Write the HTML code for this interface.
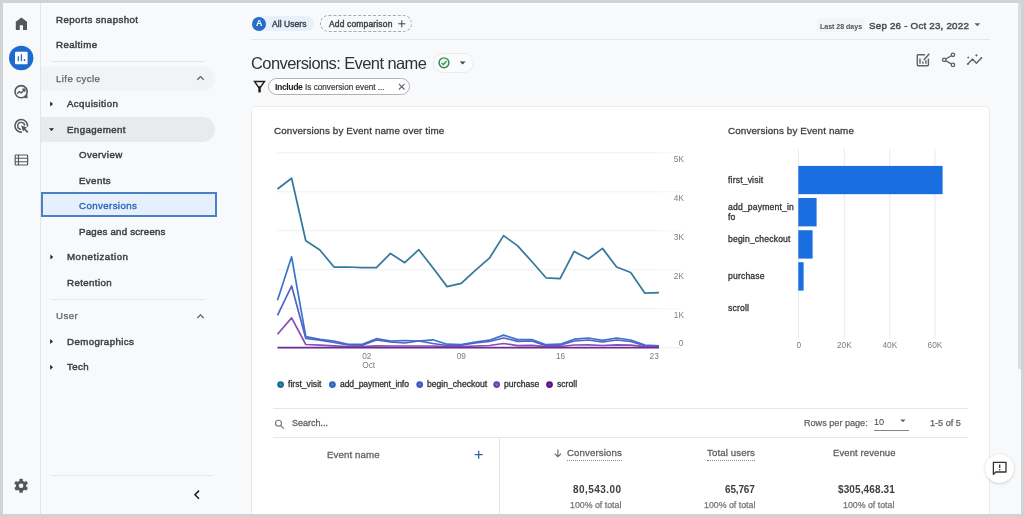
<!DOCTYPE html>
<html lang="en">
<head>
<meta charset="utf-8">
<title>Conversions: Event name</title>
<style>
*{box-sizing:border-box;margin:0;padding:0}
html,body{width:1024px;height:517px;overflow:hidden;background:#d1d2d4}
body{font-family:"Liberation Sans",Arial,sans-serif;color:#3c4043;position:relative}
#app{position:absolute;left:3px;top:3px;width:1018px;height:511px;background:#f8f9fa;overflow:hidden}
.abs{position:absolute}
.t{position:absolute;white-space:nowrap;line-height:1;transform:translateY(-41%);will-change:transform}
.med{-webkit-text-stroke:0.3px currentColor}
#rail{position:absolute;left:0;top:0;width:38px;height:511px;border-right:1px solid #e3e5e8;background:#f8f9fa}
.nav{font-size:9.7px;color:#3c4043;-webkit-text-stroke:0.45px #3c4043;letter-spacing:0.4px;margin-top:-0.8px;margin-left:0.3px}
.hl{position:absolute;background:#e4e6e9;height:1px}
.card{position:absolute;left:248px;top:103px;width:738.5px;height:420px;background:#fff;border:1px solid #e9ebed;border-radius:5px}
.sm{font-size:8.6px;color:#303336;-webkit-text-stroke:0.3px #303336;margin-top:0.1px}
.ax{font-size:8.3px;fill:#787d82;font-family:"Liberation Sans",Arial,sans-serif}
svg{position:absolute;left:0;top:0;overflow:visible}
</style>
</head>
<body>
<div id="app">
<!-- coordinates inside #app are target coords minus 3 -->
<div class="abs" style="left:0;top:0;width:1018px;height:1.5px;background:#fdfdfd"></div>
<div id="rail"></div>

<!-- SIDEBAR -->
<div class="t nav" style="left:52.4px;top:16.3px">Reports snapshot</div>
<div class="t nav" style="left:52.4px;top:42.2px">Realtime</div>
<div class="hl" style="left:48px;top:58px;width:154px"></div>
<div class="abs" style="left:38px;top:63.7px;width:174px;height:24.5px;background:#f1f3f4;border-radius:0 13px 13px 0"></div>
<div class="t nav" style="left:52.4px;top:75.3px;color:#5f6368;-webkit-text-stroke:0.25px #5f6368">Life cycle</div>
<div class="t nav" style="left:63.8px;top:100.9px">Acquisition</div>
<div class="abs" style="left:38px;top:113.8px;width:174px;height:25px;background:#e8eaed;border-radius:0 13px 13px 0"></div>
<div class="t nav" style="left:63.8px;top:126.5px">Engagement</div>
<div class="t nav" style="left:75.3px;top:151.8px">Overview</div>
<div class="t nav" style="left:75.3px;top:177.4px">Events</div>
<div class="abs" style="left:38px;top:189px;width:176px;height:25px;background:#e6f0fc;border:2.5px solid #4a80c4"></div>
<div class="t nav" style="left:75.3px;top:202.8px;color:#2c69b8;-webkit-text-stroke:0.4px #2c69b8">Conversions</div>
<div class="t nav" style="left:75.3px;top:228.6px;letter-spacing:0.22px">Pages and screens</div>
<div class="t nav" style="left:63.8px;top:254.2px;letter-spacing:0.55px">Monetization</div>
<div class="t nav" style="left:63.8px;top:279.8px">Retention</div>
<div class="hl" style="left:48px;top:296px;width:154px"></div>
<div class="t nav" style="left:52.4px;top:313.2px;color:#5f6368;-webkit-text-stroke:0.25px #5f6368">User</div>
<div class="t nav" style="left:63.8px;top:338.6px">Demographics</div>
<div class="t nav" style="left:63.8px;top:364.2px">Tech</div>
<div class="hl" style="left:48px;top:472px;width:162px"></div>

<!-- HEADER -->
<div class="abs" style="left:248.7px;top:13.3px;width:62px;height:15.2px;border-radius:8px;background:#e8f0fb"></div>
<div class="abs" style="left:249.4px;top:13.8px;width:14px;height:14px;border-radius:50%;background:#256dc8"></div>
<div class="t" style="left:253.3px;top:19.9px;font-size:8.8px;font-weight:700;color:#fff">A</div>
<div class="t" style="left:269.2px;top:20.1px;font-size:8.5px;color:#3c4043;-webkit-text-stroke:0.4px #3c4043;letter-spacing:0.05px">All Users</div>
<div class="abs" style="left:317px;top:12.2px;width:92px;height:16.8px;border-radius:9px;border:1px dashed #a5aab0"></div>
<div class="t" style="left:326.3px;top:20.1px;font-size:8.5px;color:#3c4043;-webkit-text-stroke:0.4px #3c4043;letter-spacing:0.15px">Add comparison</div>
<div class="hl" style="left:248px;top:36.3px;width:739px"></div>
<div class="abs" style="left:814px;top:16px;width:47px;height:13px;border-radius:3px;background:#f1f3f4"></div>
<div class="t" style="left:816.5px;top:22.5px;font-size:7px;font-weight:700;color:#4d5156">Last 28 days</div>
<div class="t" style="left:866.3px;top:22.2px;font-size:9.8px;letter-spacing:0.2px;color:#4d5156;-webkit-text-stroke:0.5px #4d5156">Sep 26 - Oct 23, 2022</div>

<div class="t" style="left:248.2px;top:59.3px;font-size:16.5px;letter-spacing:-0.59px;color:#303336">Conversions: Event name</div>
<div class="abs" style="left:430.2px;top:50px;width:40.6px;height:19.7px;border-radius:10px;border:1px solid #eaecee;background:#fafbfc"></div>
<div class="abs" style="left:265.3px;top:75.2px;width:142px;height:17.2px;border-radius:9px;border:1.1px solid #aeb2b7;background:#fff"></div>
<div class="t" style="left:271.6px;top:83.6px;font-size:8.7px;font-weight:700;letter-spacing:-0.42px;color:#202124">Include</div>
<div class="t" style="left:301.8px;top:84px;font-size:8.2px;color:#3c4043;-webkit-text-stroke:0.2px #3c4043">Is conversion event ...</div>

<!-- CARD -->
<div class="card"></div>
<div class="t" style="left:270.9px;top:127px;font-size:9.9px;letter-spacing:0.1px;color:#3c4043;-webkit-text-stroke:0.3px #3c4043">Conversions by Event name over time</div>
<div class="t" style="left:724.7px;top:127px;font-size:9.9px;letter-spacing:0.1px;color:#3c4043;-webkit-text-stroke:0.3px #3c4043">Conversions by Event name</div>

<!-- bar chart labels -->
<div class="t sm" style="letter-spacing:0.17px;margin-top:0.1px;left:725px;top:176.7px">first_visit</div>
<div class="t sm" style="letter-spacing:0.17px;margin-top:0.1px;left:725px;top:203.9px">add_payment_in</div>
<div class="t sm" style="letter-spacing:0.17px;margin-top:0.1px;left:725px;top:214px">fo</div>
<div class="t sm" style="letter-spacing:0.17px;margin-top:0.1px;left:725px;top:235.6px">begin_checkout</div>
<div class="t sm" style="letter-spacing:0.17px;margin-top:0.1px;left:725px;top:272.6px">purchase</div>
<div class="t sm" style="letter-spacing:0.17px;margin-top:0.1px;left:725px;top:304.7px">scroll</div>

<!-- legend -->
<div class="t sm" style="left:284.9px;top:381.3px">first_visit</div>
<div class="t sm" style="left:336.7px;top:381.3px;letter-spacing:-0.12px">add_payment_info</div>
<div class="t sm" style="left:424px;top:381.3px">begin_checkout</div>
<div class="t sm" style="left:501.4px;top:381.3px">purchase</div>
<div class="t sm" style="left:553.5px;top:381.3px">scroll</div>

<!-- table -->
<div class="hl" style="left:270.2px;top:405.2px;width:694.5px"></div>
<div class="hl" style="left:270.2px;top:434.2px;width:694.5px"></div>
<div class="abs" style="left:495.6px;top:434.2px;width:1px;height:90px;background:#e1e3e6"></div>
<div class="t" style="left:289.2px;top:420.4px;font-size:9px;color:#5f6368;-webkit-text-stroke:0.3px #5f6368">Search...</div>
<div class="t" style="left:800.7px;top:419.7px;font-size:9.1px;color:#5f6368;-webkit-text-stroke:0.25px #5f6368">Rows per page:</div>
<div class="t" style="left:871.4px;top:419px;font-size:9.1px;color:#3c4043">10</div>
<div class="abs" style="left:871px;top:426.5px;width:35px;height:1px;background:#80868b"></div>
<div class="t" style="left:926.5px;top:419.7px;font-size:9.1px;color:#5f6368;-webkit-text-stroke:0.25px #5f6368">1-5 of 5</div>

<div class="t" style="left:323.5px;top:451px;font-size:9.7px;color:#5f6368;-webkit-text-stroke:0.3px #5f6368;letter-spacing:0.1px">Event name</div>
<div class="t" style="left:564px;top:448.7px;font-size:9.7px;color:#5f6368;-webkit-text-stroke:0.3px #5f6368;letter-spacing:0.1px;border-bottom:1px dotted #70757a;padding-bottom:2px;transform:translateY(-30%)">Conversions</div>
<div class="t" style="left:703.8px;top:448.7px;font-size:9.7px;color:#5f6368;-webkit-text-stroke:0.3px #5f6368;letter-spacing:0.1px;border-bottom:1px dotted #70757a;padding-bottom:2px;transform:translateY(-30%)">Total users</div>
<div class="t" style="left:830.4px;top:448.9px;font-size:9.5px;color:#5f6368;-webkit-text-stroke:0.3px #5f6368;letter-spacing:0.1px">Event revenue</div>

<div class="t" style="right:399.1px;top:485.8px;font-size:10px;font-weight:700;color:#3c4043;letter-spacing:0.45px;margin-top:-0.3px">80,543.00</div>
<div class="t" style="right:266px;top:485.8px;font-size:10px;font-weight:700;color:#3c4043;letter-spacing:-0.15px;margin-top:-0.3px">65,767</div>
<div class="t" style="right:126px;top:485.8px;font-size:10px;font-weight:700;color:#3c4043;letter-spacing:0.12px;margin-top:-0.3px">$305,468.31</div>
<div class="t" style="right:399.6px;top:502.5px;font-size:8.8px;color:#70757a;-webkit-text-stroke:0.25px #70757a;margin-top:-0.4px">100% of total</div>
<div class="t" style="right:266px;top:502.5px;font-size:8.8px;color:#70757a;-webkit-text-stroke:0.25px #70757a;margin-top:-0.4px">100% of total</div>
<div class="t" style="right:126.2px;top:502.5px;font-size:8.8px;color:#70757a;-webkit-text-stroke:0.25px #70757a;margin-top:-0.4px">100% of total</div>

<!-- feedback fab -->
<div class="abs" style="left:982.3px;top:450.9px;width:29px;height:29px;border-radius:50%;background:#fff;box-shadow:0 1px 3px rgba(60,64,67,.2),0 0 1px rgba(60,64,67,.15)"></div>

<!-- scrollbar thumb -->
<div class="abs" style="left:1015.3px;top:0;width:3px;height:365.5px;background:#dcddde"></div>

<!-- ALL VECTOR ART -->
<svg width="1018" height="511" viewBox="3 3 1018 511">
<!-- viewBox offset so svg coords == target coords -->
<g id="charts">
<line x1="277" x2="659" y1="152.8" y2="152.8" stroke="#eff0f2" stroke-width="1"/><line x1="659" x2="681" y1="152.8" y2="152.8" stroke="#f4f5f6" stroke-width="1"/>
<line x1="277" x2="659" y1="191.8" y2="191.8" stroke="#eff0f2" stroke-width="1"/><line x1="659" x2="681" y1="191.8" y2="191.8" stroke="#f4f5f6" stroke-width="1"/>
<line x1="277" x2="659" y1="230.8" y2="230.8" stroke="#eff0f2" stroke-width="1"/><line x1="659" x2="681" y1="230.8" y2="230.8" stroke="#f4f5f6" stroke-width="1"/>
<line x1="277" x2="659" y1="269.7" y2="269.7" stroke="#eff0f2" stroke-width="1"/><line x1="659" x2="681" y1="269.7" y2="269.7" stroke="#f4f5f6" stroke-width="1"/>
<line x1="277" x2="659" y1="308.7" y2="308.7" stroke="#eff0f2" stroke-width="1"/><line x1="659" x2="681" y1="308.7" y2="308.7" stroke="#f4f5f6" stroke-width="1"/>
<line x1="277" x2="659" y1="347.8" y2="347.8" stroke="#dadce0" stroke-width="1"/><line x1="659" x2="681" y1="347.8" y2="347.8" stroke="#eceef0" stroke-width="1"/>
<text class="ax" x="684" y="161.6" text-anchor="end">5K</text>
<text class="ax" x="684" y="200.6" text-anchor="end">4K</text>
<text class="ax" x="684" y="239.6" text-anchor="end">3K</text>
<text class="ax" x="684" y="278.5" text-anchor="end">2K</text>
<text class="ax" x="684" y="317.5" text-anchor="end">1K</text>
<text class="ax" x="683.4" y="346" text-anchor="end">0</text>
<polyline fill="none" stroke="#34799c" stroke-width="1.75" stroke-linejoin="round" stroke-linecap="butt" points="277.5,189 291.6,178.2 305.8,240.8 319.9,250 334.0,267 348.1,267 362.3,267.7 376.4,267.7 390.5,253.4 404.7,262.7 418.8,249.7 432.9,267.8 447.1,286.6 461.2,283.4 475.3,270.3 489.4,258.2 503.6,235.6 517.7,245.9 531.8,261.5 546.0,277.8 560.1,278.6 574.2,251.4 588.4,259 602.5,248.4 616.6,267 630.7,272.5 644.9,293.2 659.0,292.7"/>
<polyline fill="none" stroke="#3a76c8" stroke-width="1.7" stroke-linejoin="round" stroke-linecap="butt" points="277.5,300.3 291.6,256.8 305.8,336.7 319.9,339.3 334.0,341 348.1,344.3 362.3,344.3 376.4,338.7 390.5,341.2 404.7,340.5 418.8,341.2 432.9,339.8 447.1,344.2 461.2,344.6 475.3,342 489.4,340.2 503.6,335.1 517.7,339.6 531.8,339.5 546.0,344.7 560.1,344.2 574.2,339.2 588.4,338 602.5,340.3 616.6,338 630.7,340 644.9,345 659.0,345.8"/>
<polyline fill="none" stroke="#5560c8" stroke-width="1.7" stroke-linejoin="round" stroke-linecap="butt" points="277.5,315.4 291.6,286 305.8,338.5 319.9,340.2 334.0,342.5 348.1,345 362.3,345.2 376.4,340 390.5,342 404.7,343 418.8,341 432.9,343.5 447.1,345.5 461.2,345.2 475.3,343 489.4,341.5 503.6,338 517.7,341.3 531.8,341 546.0,345.6 560.1,345.2 574.2,341 588.4,340 602.5,342 616.6,340 630.7,341.5 644.9,345.8 659.0,346.2"/>
<polyline fill="none" stroke="#8650b8" stroke-width="1.7" stroke-linejoin="round" stroke-linecap="butt" points="277.5,334.2 291.6,317.9 305.8,344.5 319.9,345.2 334.0,345.8 348.1,346.5 362.3,346.5 376.4,345.8 390.5,346 404.7,346 418.8,346 432.9,346 447.1,346.6 461.2,346.6 475.3,346 489.4,345.5 503.6,343.5 517.7,345.6 531.8,345.3 546.0,346.6 560.1,346.5 574.2,345 588.4,344.8 602.5,345.5 616.6,344.8 630.7,345.2 644.9,346.6 659.0,346.8"/>
<polyline fill="none" stroke="#6c2c92" stroke-width="1.8" stroke-linejoin="round" stroke-linecap="butt" points="277.5,347.6 291.6,347.6 305.8,347.6 319.9,347.6 334.0,347.6 348.1,347.6 362.3,347.6 376.4,347.6 390.5,347.6 404.7,347.6 418.8,347.6 432.9,347.6 447.1,347.6 461.2,347.6 475.3,347.6 489.4,347.6 503.6,347.6 517.7,347.6 531.8,347.6 546.0,347.6 560.1,347.6 574.2,347.6 588.4,347.6 602.5,347.6 616.6,347.6 630.7,347.6 644.9,347.6 659.0,347.6"/>
<text class="ax" x="362.2" y="359.4">02</text><text class="ax" x="362.2" y="367.7">Oct</text>
<text class="ax" x="461.3" y="359.4" text-anchor="middle">09</text>
<text class="ax" x="560.6" y="359.4" text-anchor="middle">16</text>
<text class="ax" x="658.8" y="359.4" text-anchor="end">23</text>
<circle cx="280.6" cy="384.6" r="3.4" fill="#1b6c93"/><circle cx="280.6" cy="384.6" r="1.1" fill="#3a93c2"/>
<circle cx="332.4" cy="384.6" r="3.4" fill="#2a68ba"/><circle cx="332.4" cy="384.6" r="1.1" fill="#4d8ee0"/>
<circle cx="419.7" cy="384.6" r="3.4" fill="#4654c4"/><circle cx="419.7" cy="384.6" r="1.1" fill="#6d7be6"/>
<circle cx="496.7" cy="384.6" r="3.4" fill="#7040b8"/><circle cx="496.7" cy="384.6" r="1.1" fill="#9a6ce0"/>
<circle cx="549.5" cy="384.6" r="3.4" fill="#5c1186"/><circle cx="549.5" cy="384.6" r="1.1" fill="#8a3cb4"/>
<line x1="798.3" x2="798.3" y1="148.8" y2="338.4" stroke="#e6e8eb" stroke-width="1"/>
<line x1="844.3" x2="844.3" y1="148.8" y2="338.4" stroke="#e6e8eb" stroke-width="1"/>
<line x1="889.8" x2="889.8" y1="148.8" y2="338.4" stroke="#e6e8eb" stroke-width="1"/>
<line x1="934.9" x2="934.9" y1="148.8" y2="338.4" stroke="#e6e8eb" stroke-width="1"/>
<rect x="798.3" y="165.9" width="144.3" height="28.3" fill="#1a6fe0"/>
<rect x="798.3" y="198" width="18.3" height="28.4" fill="#1a6fe0"/>
<rect x="798.3" y="230.2" width="14.3" height="28.4" fill="#1a6fe0"/>
<rect x="798.3" y="262.2" width="5.3" height="28.4" fill="#1a6fe0"/>
<text class="ax" x="798.9" y="348.2" text-anchor="middle">0</text>
<text class="ax" x="844.3" y="348.2" text-anchor="middle">20K</text>
<text class="ax" x="889.8" y="348.2" text-anchor="middle">40K</text>
<text class="ax" x="934.9" y="348.2" text-anchor="middle">60K</text>
</g>
<g id="icons">
<!-- rail icons -->
<path d="M21.4 17.4 L15.8 21.7 V30 H19.8 V25.2 H23 V30 H27 V21.7 Z" fill="#54585d"/>
<circle cx="21.2" cy="58" r="12.2" fill="#1d6bce"/>
<rect x="15" y="51.7" width="12.6" height="12.6" rx="1" fill="#fff"/>
<rect x="17.7" y="56.2" width="1.3" height="5" fill="#2f6fbe"/><rect x="20.7" y="54.2" width="1.4" height="7" fill="#2f6fbe"/><rect x="23.8" y="59" width="1.4" height="2.2" fill="#2f6fbe"/>
<circle cx="21.1" cy="91.7" r="6.1" fill="none" stroke="#54585d" stroke-width="1.6"/>
<path d="M27.6 98.2 L23.6 97.9 L27.3 94.2 Z" fill="#54585d"/>
<path d="M17.2 93.8 L19.4 91.4 L21.2 93 L24.4 89.7 M22.3 89.3 H24.8 V91.8" fill="none" stroke="#54585d" stroke-width="1.4" stroke-linejoin="round"/>
<path d="M27.5 126.6 A6.3 6.3 0 1 0 22 132.1" fill="none" stroke="#54585d" stroke-width="1.5"/>
<path d="M24.7 125.6 A3.5 3.5 0 1 0 21 129.4" fill="none" stroke="#54585d" stroke-width="1.4"/>
<path d="M21.2 125.6 L27 127.5 L25.4 128.7 L28.4 131.7 L27.2 132.9 L24.2 129.9 L23 131.5 Z" fill="#54585d"/>
<rect x="15.2" y="155" width="12.4" height="10" rx="0.8" fill="none" stroke="#54585d" stroke-width="1.2"/>
<path d="M15.2 158.3 H27.6 M15.2 161.7 H27.6 M18.5 155 V165" stroke="#54585d" stroke-width="1.1" fill="none"/>
<g transform="translate(21.1 485.8)" fill="#54585d">
<rect x="-1.7" y="-7" width="3.4" height="14" rx="0.6"/>
<rect x="-1.7" y="-7" width="3.4" height="14" rx="0.6" transform="rotate(60)"/>
<rect x="-1.7" y="-7" width="3.4" height="14" rx="0.6" transform="rotate(120)"/>
<circle r="5.2"/><circle r="2.3" fill="#f8f9fa"/>
</g>
<!-- sidebar arrows -->
<g fill="#202124">
<path d="M50.2 101.4 L53 103.9 L50.2 106.4 Z"/>
<path d="M49 128.2 H54 L51.5 131 Z"/>
<path d="M50.4 254.6 L53.2 257.1 L50.4 259.6 Z"/>
<path d="M50.2 339.1 L53 341.6 L50.2 344.1 Z"/>
<path d="M50.2 364.7 L53 367.2 L50.2 369.7 Z"/>
</g>
<g fill="none" stroke="#5f6368" stroke-width="1.3">
<path d="M197.3 79.8 L200.5 76.6 L203.7 79.8"/>
<path d="M197.3 318 L200.5 314.8 L203.7 318"/>
</g>
<path d="M199 490.6 L195 494.7 L199 498.8" fill="none" stroke="#202124" stroke-width="1.6"/>
<!-- header -->
<path d="M398.2 23.8 H405.4 M401.8 20.2 V27.4" stroke="#3c4043" stroke-width="1" fill="none"/>
<path d="M974.4 23.2 H980.2 L977.3 26.2 Z" fill="#5f6368"/>
<circle cx="444" cy="62.8" r="4.9" fill="#eaf6ee" stroke="#2f8a4c" stroke-width="1.4"/>
<path d="M441.6 62.9 L443.3 64.6 L446.5 61.2" fill="none" stroke="#2f8a4c" stroke-width="1.3"/>
<path d="M459.6 61.4 H465.6 L462.6 64.5 Z" fill="#44474b"/>
<path d="M254.6 81.6 H264.4 L260.4 87.2 H258.6 Z" fill="none" stroke="#1f1f1f" stroke-width="1.5" stroke-linejoin="miter"/>
<rect x="258.3" y="86.5" width="2.5" height="5.9" fill="#1f1f1f"/>
<path d="M398.9 83.9 L404.5 89.5 M404.5 83.9 L398.9 89.5" stroke="#5f6368" stroke-width="1.1" fill="none"/>
<!-- top-right icons -->
<g fill="none" stroke="#5f6368" stroke-width="1.4">
<path d="M925 54.7 H918 Q917.3 54.7 917.3 55.4 V65.1 Q917.3 65.8 918 65.8 H927.7 Q928.4 65.8 928.4 65.1 V58.6"/>
<path d="M920 63.8 V58.6 M922.9 63.8 V61.4 M925.9 63.8 V60.2" stroke-width="1.4"/>
<path d="M923.8 60 L929.3 53.8" stroke-width="1.5"/>
<path d="M945.6 59 L951.6 55.6 M945.6 60.6 L951.6 64.1" stroke-width="1.3"/>
<circle cx="944.2" cy="59.8" r="1.7" stroke-width="1.3"/><circle cx="953" cy="54.8" r="1.7" stroke-width="1.3"/><circle cx="953" cy="64.9" r="1.7" stroke-width="1.3"/>
<path d="M967.9 64 L972.5 59 L976.4 63.3 L981.4 58" stroke-width="1.4" stroke-linejoin="round"/>
</g>
<circle cx="967.9" cy="64" r="1" fill="#5f6368"/><circle cx="981.4" cy="58" r="0.9" fill="#5f6368"/>
<path d="M968.2 56.1 L968.6 57.1 L969.6 57.5 L968.6 57.9 L968.2 58.9 L967.8 57.9 L966.8 57.5 L967.8 57.1 Z M976.4 53.4 L976.9 54.7 L978.2 55.2 L976.9 55.7 L976.4 57 L975.9 55.7 L974.6 55.2 L975.9 54.7 Z" fill="#5f6368"/>
<!-- table -->
<circle cx="278.5" cy="423.3" r="3" fill="none" stroke="#70757a" stroke-width="1.1"/>
<path d="M280.7 425.6 L283.8 428.6" stroke="#70757a" stroke-width="1.2"/>
<path d="M900.2 419.4 H905.6 L902.9 422.2 Z" fill="#5f6368"/>
<path d="M474.7 454.7 H482.7 M478.7 450.7 V458.7" stroke="#2b66b4" stroke-width="1.3" fill="none"/>
<path d="M557.9 449.4 V456.6 M554.8 453.6 L557.9 456.8 L561 453.6" stroke="#5f6368" stroke-width="1.1" fill="none"/>
<!-- feedback -->
<path d="M993.4 462.4 H1006 V472 H995.8 L993.4 474.4 Z" fill="none" stroke="#2f3235" stroke-width="1.3" stroke-linejoin="round"/>
<path d="M999.7 464.4 V468" stroke="#2f3235" stroke-width="1.3"/><circle cx="999.7" cy="469.8" r="0.8" fill="#2f3235"/>
</g>
</svg>
</div>
</body>
</html>
